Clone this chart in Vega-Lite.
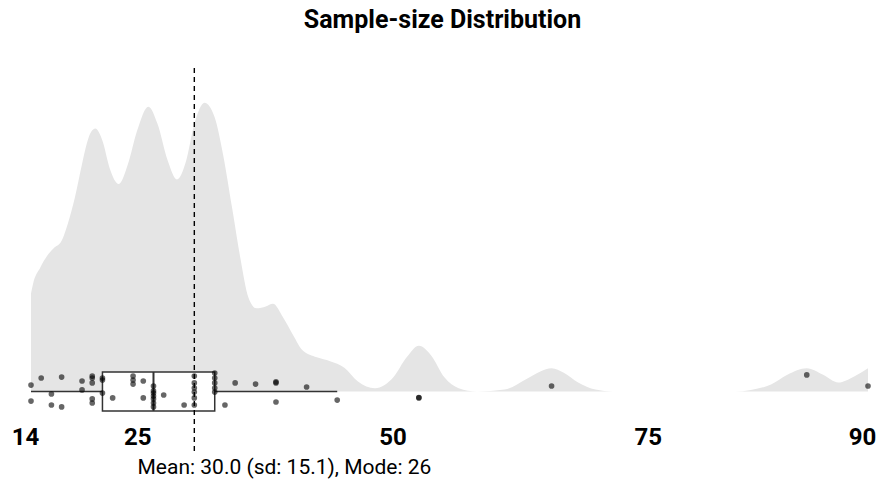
{
  "$schema": "https://vega.github.io/schema/vega-lite/v6.json",
  "autosize": "none",
  "width": 837,
  "height": 387,
  "padding": {"left": 31, "top": 68, "right": 9, "bottom": 30},
  "background": "white",
  "title": {"text": "Sample-size Distribution", "font": "Roboto", "fontSize": 25, "fontWeight": "bold", "color": "#000000", "anchor": "middle", "frame": "group", "offset": 14, "baseline": "alphabetic", "dx": -7},
  "config": {"view": {"stroke": null}, "font": "Roboto"},
  "datasets": {
    "density": [
      {"v": 14.0, "d": 0.0152}, {"v": 14.2, "d": 0.0167}, {"v": 14.9, "d": 0.0192}, {"v": 15.6, "d": 0.0211},
      {"v": 16.2, "d": 0.0222}, {"v": 17.0, "d": 0.0234}, {"v": 17.6, "d": 0.0260}, {"v": 18.3, "d": 0.0301},
      {"v": 19.0, "d": 0.0353}, {"v": 19.6, "d": 0.0392}, {"v": 20.3, "d": 0.0408}, {"v": 21.0, "d": 0.0389},
      {"v": 21.7, "d": 0.0347}, {"v": 22.6, "d": 0.0322}, {"v": 23.5, "d": 0.0353}, {"v": 24.4, "d": 0.0405},
      {"v": 25.5, "d": 0.0442}, {"v": 26.4, "d": 0.0415}, {"v": 27.4, "d": 0.0358}, {"v": 28.3, "d": 0.0329},
      {"v": 29.2, "d": 0.0358}, {"v": 30.0, "d": 0.0415}, {"v": 31.0, "d": 0.0448}, {"v": 32.0, "d": 0.0425},
      {"v": 32.8, "d": 0.0369}, {"v": 33.7, "d": 0.0285}, {"v": 34.5, "d": 0.0208}, {"v": 35.3, "d": 0.0146},
      {"v": 36.1, "d": 0.0129}, {"v": 37.0, "d": 0.0132}, {"v": 37.7, "d": 0.0136}, {"v": 38.7, "d": 0.0115},
      {"v": 39.7, "d": 0.0087}, {"v": 40.6, "d": 0.0064}, {"v": 42.0, "d": 0.0053}, {"v": 43.3, "d": 0.0047},
      {"v": 44.7, "d": 0.0037}, {"v": 46.0, "d": 0.0016}, {"v": 47.7, "d": 0.0005}, {"v": 49.5, "d": 0.0022},
      {"v": 50.8, "d": 0.0053}, {"v": 52.0, "d": 0.0071}, {"v": 53.2, "d": 0.0056}, {"v": 54.5, "d": 0.0022},
      {"v": 55.9, "d": 0.0005}, {"v": 57.7, "d": 0.0}, {"v": 60.4, "d": 0.0003}, {"v": 62.5, "d": 0.0019},
      {"v": 63.9, "d": 0.0031}, {"v": 65.0, "d": 0.0036}, {"v": 66.2, "d": 0.0029}, {"v": 67.6, "d": 0.0014},
      {"v": 69.3, "d": 0.0003}, {"v": 71.0, "d": 0.0}, {"v": 83.0, "d": 0.0}, {"v": 84.4, "d": 0.0002},
      {"v": 86.5, "d": 0.0011}, {"v": 88.1, "d": 0.0026}, {"v": 90.0, "d": 0.0036}, {"v": 91.6, "d": 0.0026},
      {"v": 93.1, "d": 0.0014}, {"v": 94.6, "d": 0.0023}, {"v": 96.0, "d": 0.0036}
    ],
    "points": [
      {"value": 14, "j": 0.33}, {"value": 14, "j": -0.49}, {"value": 15, "j": 0.69},
      {"value": 16, "j": -0.13}, {"value": 16, "j": -0.69}, {"value": 17, "j": 0.74}, {"value": 17, "j": -0.79},
      {"value": 19, "j": 0.54}, {"value": 19, "j": 0.08},
      {"value": 20, "j": 0.79}, {"value": 20, "j": 0.69}, {"value": 20, "j": 0.44}, {"value": 20, "j": -0.38}, {"value": 20, "j": -0.59},
      {"value": 21, "j": 0.69}, {"value": 21, "j": 0.59}, {"value": 21, "j": -0.08},
      {"value": 22, "j": -0.33},
      {"value": 24, "j": 0.79}, {"value": 24, "j": 0.59}, {"value": 24, "j": 0.38},
      {"value": 25, "j": 0.54}, {"value": 25, "j": -0.33},
      {"value": 26, "j": 0.28}, {"value": 26, "j": 0.03}, {"value": 26, "j": -0.23}, {"value": 26, "j": -0.38}, {"value": 26, "j": -0.59}, {"value": 26, "j": -0.79}, {"value": 26, "j": -0.08},
      {"value": 27, "j": -0.18}, {"value": 29, "j": -0.69},
      {"value": 30, "j": 0.79}, {"value": 30, "j": 0.44}, {"value": 30, "j": 0.18}, {"value": 30, "j": -0.03}, {"value": 30, "j": -0.33}, {"value": 30, "j": -0.69},
      {"value": 32, "j": 0.95}, {"value": 32, "j": 0.69}, {"value": 32, "j": 0.44}, {"value": 32, "j": 0.18}, {"value": 32, "j": -0.03},
      {"value": 33, "j": -0.69}, {"value": 34, "j": 0.44}, {"value": 36, "j": 0.38},
      {"value": 38, "j": 0.49}, {"value": 38, "j": 0.44}, {"value": 38, "j": -0.54},
      {"value": 41, "j": 0.23}, {"value": 44, "j": -0.44},
      {"value": 52, "j": -0.33}, {"value": 52, "j": -0.31},
      {"value": 65, "j": 0.28}, {"value": 90, "j": 0.85}, {"value": 96, "j": 0.28}
    ],
    "box": [{"lower": 14, "q1": 21, "median": 26, "q3": 32, "upper": 44}],
    "stats": [{"mean": 30.0}]
  },
  "layer": [
    {
      "data": {"name": "density"},
      "mark": {"type": "area", "interpolate": "monotone", "color": "#e5e5e5"},
      "encoding": {
        "x": {
          "field": "v", "type": "quantitative",
          "scale": {"domain": [14, 96], "nice": false, "zero": false},
          "axis": {
            "values": [14, 25, 50, 75, 96],
            "labelExpr": "datum.value == 96 ? '90' : datum.label",
            "labelFont": "Roboto", "labelFontSize": 24, "labelFontWeight": "bold", "labelColor": "#000000",
            "ticks": false, "tickSize": 0, "domain": false, "grid": false,
            "offset": -40, "labelPadding": 10, "labelOffset": -6, "labelFlush": false, "labelOverlap": false,
            "title": "Mean: 30.0 (sd: 15.1), Mode: 26",
            "titleFont": "Roboto", "titleFontSize": 21, "titleFontWeight": "normal", "titleColor": "#000000",
            "titleAnchor": "start", "titleAlign": "left", "titleX": 106, "titleY": 58, "titleBaseline": "alphabetic"
          }
        },
        "y": {
          "field": "d", "type": "quantitative",
          "scale": {"domain": [0, 0.045], "range": [323.5, 33.5], "nice": false, "zero": true},
          "axis": null
        }
      }
    },
    {
      "layer": [
        {
          "data": {"name": "box"},
          "mark": {"type": "rule", "color": "#333333", "strokeWidth": 1.5},
          "encoding": {
            "x": {"field": "lower", "type": "quantitative", "title": "Mean: 30.0 (sd: 15.1), Mode: 26"},
            "x2": {"field": "q1"},
            "y": {"datum": 0, "type": "quantitative", "scale": {"domain": [-1, 1], "range": [343, 304], "nice": false, "zero": false}, "axis": null}
          }
        },
        {
          "data": {"name": "box"},
          "mark": {"type": "rule", "color": "#333333", "strokeWidth": 1.5},
          "encoding": {
            "x": {"field": "q3", "type": "quantitative", "title": "Mean: 30.0 (sd: 15.1), Mode: 26"},
            "x2": {"field": "upper"},
            "y": {"datum": 0, "type": "quantitative", "scale": {"domain": [-1, 1], "range": [343, 304], "nice": false, "zero": false}, "axis": null}
          }
        },
        {
          "data": {"name": "box"},
          "mark": {"type": "rect", "fill": "white", "stroke": "#333333", "strokeWidth": 1.5},
          "encoding": {
            "x": {"field": "q1", "type": "quantitative", "title": "Mean: 30.0 (sd: 15.1), Mode: 26"},
            "x2": {"field": "q3"},
            "y": {"datum": -1, "type": "quantitative", "scale": {"domain": [-1, 1], "range": [343, 304], "nice": false, "zero": false}, "axis": null},
            "y2": {"datum": 1}
          }
        },
        {
          "data": {"name": "box"},
          "mark": {"type": "rule", "color": "#333333", "strokeWidth": 2},
          "encoding": {
            "x": {"field": "median", "type": "quantitative", "title": "Mean: 30.0 (sd: 15.1), Mode: 26"},
            "y": {"datum": -1, "type": "quantitative", "scale": {"domain": [-1, 1], "range": [343, 304], "nice": false, "zero": false}, "axis": null},
            "y2": {"datum": 1}
          }
        },
        {
          "data": {"name": "points"},
          "mark": {"type": "circle", "color": "#000000", "opacity": 0.6, "size": 32},
          "encoding": {
            "x": {"field": "value", "type": "quantitative", "title": "Mean: 30.0 (sd: 15.1), Mode: 26"},
            "y": {"field": "j", "type": "quantitative", "scale": {"domain": [-1, 1], "range": [343, 304], "nice": false, "zero": false}, "axis": null}
          }
        }
      ]
    },
    {
      "data": {"name": "stats"},
      "mark": {"type": "rule", "color": "#000000", "strokeWidth": 1.4, "strokeDash": [5, 4]},
      "encoding": {
        "x": {"field": "mean", "type": "quantitative", "title": "Mean: 30.0 (sd: 15.1), Mode: 26"}
      }
    }
  ],
  "resolve": {"scale": {"y": "independent"}}
}
